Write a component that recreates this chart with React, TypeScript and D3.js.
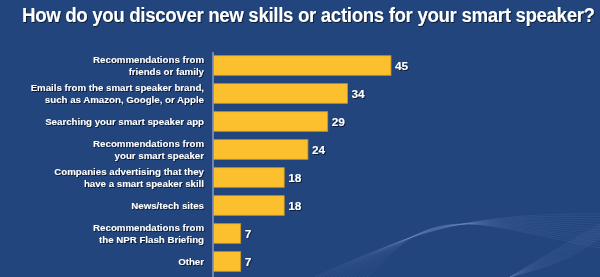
import React from "react";
import * as d3 from "d3";

const title = "How do you discover new skills or actions for your smart speaker?";
const categories: string[][] = [
  ["Recommendations from", "friends or family"],
  ["Emails from the smart speaker brand,", "such as Amazon, Google, or Apple"],
  ["Searching your smart speaker app"],
  ["Recommendations from", "your smart speaker"],
  ["Companies advertising that they", "have a smart speaker skill"],
  ["News/tech sites"],
  ["Recommendations from", "the NPR Flash Briefing"],
  ["Other"],
];
const values = [45, 34, 29, 24, 18, 18, 7, 7];

const W = 600;
const H = 277;
const BG = "#21457c";
const BAR = "#fcbf2e";
const BAR_STROKE = "#c9951e";

export default function App() {
  const x0 = 213;
  const x = d3.scaleLinear().domain([0, 45]).range([x0, x0 + 178]);
  const ids = categories.map((_, i) => String(i));
  const y = d3
    .scaleBand<string>()
    .domain(ids)
    .range([51.5, 275.5])
    .paddingInner(0.3)
    .paddingOuter(0.15);

  // decorative background waves
  const waves: string[] = [];
  for (let k = 0; k < 14; k++) {
    const pts: [number, number][] = [
      [315 + k * 4, 277],
      [430, 226 - k * 1.0],
      [530, 214 + k * 1.5],
      [600, 214 + k * 2.6],
    ];
    waves.push(d3.line().curve(d3.curveBasis)(pts) || "");
  }
  const waves2: string[] = [];
  for (let k = 0; k < 10; k++) {
    const pts: [number, number][] = [
      [510, 277],
      [565, 262 - k * 2],
      [600, 238 - k * 1.5],
    ];
    waves2.push(d3.line().curve(d3.curveBasis)(pts) || "");
  }

  return (
    <svg
      width={W}
      height={H}
      style={{ position: "absolute", left: 0, top: 0, display: "block" }}
      fontFamily="'Liberation Sans', Arial, sans-serif"
    >
      <defs>
        <filter id="sh" x="-5%" y="-20%" width="110%" height="140%">
          <feDropShadow dx="1" dy="1" stdDeviation="0.6" floodColor="#000" floodOpacity="0.6" />
        </filter>
      </defs>
      <rect x={0} y={0} width={W} height={H} fill={BG} />
      <g fill="none" stroke="#7393c4" strokeOpacity={0.22} strokeWidth={0.7}>
        {waves.map((d, i) => (
          <path key={"w" + i} d={d} />
        ))}
        {waves2.map((d, i) => (
          <path key={"v" + i} d={d} />
        ))}
      </g>
      <g transform="translate(22,22) scale(0.91,1)">
        <text
          x={0}
          y={0}
          fill="#fff"
          fontSize={20.5}
          fontWeight="bold"
          letterSpacing={-0.35}
          filter="url(#sh)"
        >
          {title}
        </text>
      </g>
      <line x1={x0} x2={x0} y1={52} y2={277} stroke="#8a9bbb" strokeWidth={1.5} />
      {values.map((v, i) => {
        const by = y(String(i))!;
        const bh = y.bandwidth();
        const cy = by + bh / 2;
        const lines = categories[i];
        const lh = 12;
        const start = cy - ((lines.length - 1) * lh) / 2;
        return (
          <g key={i}>
            <rect
              x={x(0) + 0.5}
              y={by}
              width={x(v) - x(0) - 0.5}
              height={bh}
              fill={BAR}
              stroke={BAR_STROKE}
              strokeWidth={0.8}
            />
            <text
              x={x(v) + 4}
              y={cy + 4.3}
              fill="#fff"
              fontSize={11.8}
              fontWeight="bold"
              filter="url(#sh)"
            >
              {v}
            </text>
            <text
              fill="#fff"
              fontSize={9.7}
              fontWeight="bold"
              textAnchor="end"
              filter="url(#sh)"
            >
              {lines.map((t, j) => (
                <tspan key={j} x={204} y={start + j * lh + 3.6}>
                  {t}
                </tspan>
              ))}
            </text>
          </g>
        );
      })}
    </svg>
  );
}
